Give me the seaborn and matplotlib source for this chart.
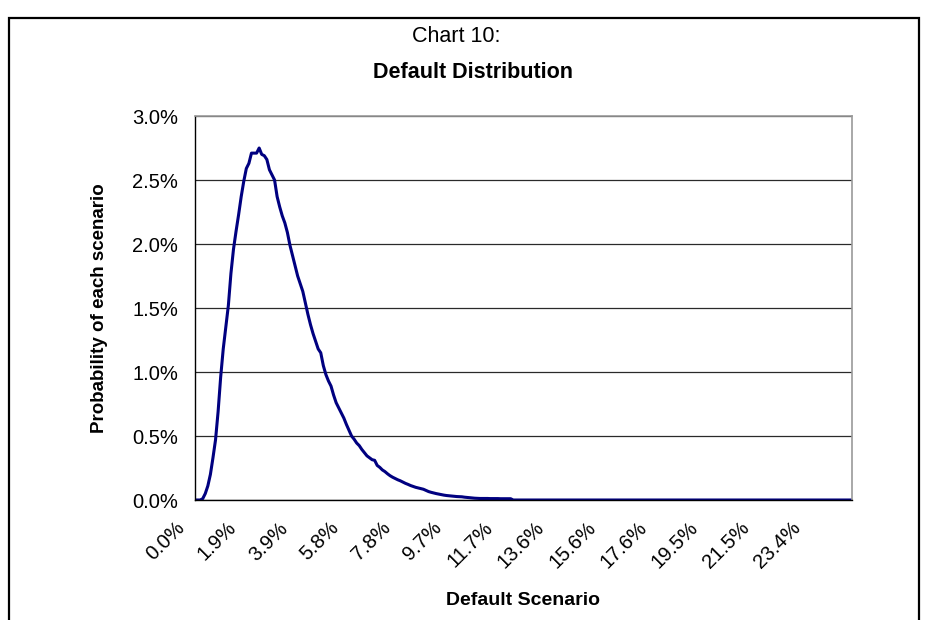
import numpy as np
import matplotlib
matplotlib.use('Agg')
import matplotlib.pyplot as plt
import seaborn as sns
from matplotlib.patches import Rectangle
from matplotlib.transforms import ScaledTranslation
from matplotlib.ticker import FuncFormatter

# Probabilidad de cada escenario (%), un valor por escenario
prob_subida = [0.000, 0.000, 0.000, 0.010, 0.050, 0.110, 0.200, 0.330, 0.470, 0.690,
               0.960, 1.180, 1.350, 1.520, 1.770, 1.960, 2.100, 2.230, 2.370, 2.490,
               2.590, 2.630, 2.710, 2.710, 2.710, 2.750, 2.700, 2.690, 2.660, 2.580]
prob_bajada = [2.540, 2.500, 2.370, 2.290, 2.220, 2.165, 2.090, 1.990, 1.910, 1.830,
               1.750, 1.690, 1.630, 1.540, 1.450, 1.370, 1.300, 1.240, 1.180, 1.150,
               1.050, 0.980, 0.930, 0.890, 0.820, 0.760, 0.720, 0.680, 0.640, 0.590,
               0.545, 0.500, 0.475, 0.445, 0.425, 0.395, 0.370, 0.345, 0.330, 0.315,
               0.310, 0.270, 0.255, 0.235, 0.222, 0.205, 0.190, 0.178, 0.168, 0.158,
               0.150, 0.140, 0.130, 0.122, 0.113, 0.106, 0.099, 0.094, 0.089, 0.084,
               0.075, 0.066, 0.060, 0.055, 0.050, 0.046, 0.042, 0.038, 0.035, 0.033,
               0.031, 0.029, 0.027, 0.026, 0.025, 0.022, 0.020, 0.018, 0.016, 0.014,
               0.013, 0.012, 0.012, 0.012, 0.012, 0.011, 0.011, 0.011, 0.011, 0.010,
               0.010, 0.010, 0.010, 0.010]
prob_cola = [0.0, 0.0, 0.0, 0.0, 0.0, 0.0, 0.0, 0.0, 0.0, 0.0, 0.0, 0.0, 0.0, 0.0, 0.0, 0.0, 0.0, 0.0, 0.0, 0.0,
             0.0, 0.0, 0.0, 0.0, 0.0, 0.0, 0.0, 0.0, 0.0, 0.0, 0.0, 0.0, 0.0, 0.0, 0.0, 0.0, 0.0, 0.0, 0.0, 0.0,
             0.0, 0.0, 0.0, 0.0, 0.0, 0.0, 0.0, 0.0, 0.0, 0.0, 0.0, 0.0, 0.0, 0.0, 0.0, 0.0, 0.0, 0.0, 0.0, 0.0,
             0.0, 0.0, 0.0, 0.0, 0.0, 0.0, 0.0, 0.0, 0.0, 0.0, 0.0, 0.0, 0.0, 0.0, 0.0, 0.0, 0.0, 0.0, 0.0, 0.0,
             0.0, 0.0, 0.0, 0.0, 0.0, 0.0, 0.0, 0.0, 0.0, 0.0, 0.0, 0.0, 0.0, 0.0, 0.0, 0.0, 0.0, 0.0, 0.0, 0.0,
             0.0, 0.0, 0.0, 0.0, 0.0, 0.0, 0.0, 0.0, 0.0, 0.0, 0.0, 0.0, 0.0, 0.0, 0.0, 0.0, 0.0, 0.0, 0.0, 0.0,
             0.0, 0.0, 0.0, 0.0, 0.0, 0.0, 0.0, 0.0, 0.0, 0.0, 0.0, 0.0, 0.0]

# Etiquetas del eje x (una cada 20 escenarios)
etiquetas_x = ['0.0%', '1.9%', '3.9%', '5.8%', '7.8%', '9.7%', '11.7%',
               '13.6%', '15.6%', '17.6%', '19.5%', '21.5%', '23.4%']
paso_etiqueta = 20

probabilidad = prob_subida + prob_bajada + prob_cola
escenario = np.arange(len(probabilidad))

sns.set_style('white')
plt.rcParams['font.family'] = ['Liberation Sans', 'DejaVu Sans']
plt.rcParams['text.color'] = 'black'
plt.rcParams['axes.labelcolor'] = 'black'
negrita = ['Liberation Sans Narrow', 'Liberation Sans', 'DejaVu Sans']

fig = plt.figure(figsize=(9.27, 6.2), dpi=100)
ax = fig.add_axes([195 / 927, 1 - 500 / 620, (852 - 195) / 927, (500 - 116) / 620])

sns.lineplot(x=escenario, y=probabilidad, color='#000080', linewidth=2.2, ax=ax)

ax.set_xlim(0, len(probabilidad) - 1)
ax.set_ylim(0, 3.0)
ax.set_yticks(np.arange(0, 3.01, 0.5))
ax.yaxis.set_major_formatter(FuncFormatter(lambda v, p: f'{v:.1f}%'))
ax.set_xticks(np.arange(len(etiquetas_x)) * paso_etiqueta)
ax.set_xticklabels(etiquetas_x)

ax.yaxis.grid(True, color='#2a2a2a', linewidth=0.9)
ax.set_axisbelow(True)
for lado in ['left', 'bottom']:
    ax.spines[lado].set_color('black')
    ax.spines[lado].set_linewidth(1.0)
for lado in ['top', 'right']:
    ax.spines[lado].set_color('#9a9a9a')
    ax.spines[lado].set_linewidth(1.2)

ax.tick_params(axis='both', direction='out', length=5, width=0.9, color='black',
               labelsize=14.5, labelcolor='black')
ax.tick_params(axis='y', pad=7)
ax.tick_params(axis='x', pad=13)
desplazamiento = ScaledTranslation(-0.13, 0, fig.dpi_scale_trans)
for etiqueta in ax.get_xticklabels():
    etiqueta.set_rotation(45)
    etiqueta.set_ha('right')
    etiqueta.set_va('center')
    etiqueta.set_rotation_mode('anchor')
    etiqueta.set_transform(etiqueta.get_transform() + desplazamiento)

ax.set_ylabel('Probability of each scenario', fontsize=13.5, fontweight='bold', family=negrita)
ax.yaxis.label.set_va('center')
ax.yaxis.set_label_coords(-0.145, 0.5)
ax.set_xlabel('Default Scenario', fontsize=14, fontweight='bold', family=negrita)
ax.xaxis.label.set_va('center')
ax.xaxis.set_label_coords(0.5, -0.262)

fig.text(456 / 927, 1 - 37 / 620, 'Chart 10:', ha='center', va='center', fontsize=15.5)
fig.text(473 / 927, 1 - 72 / 620, 'Default Distribution', ha='center', va='center',
         fontsize=15.5, fontweight='bold', family=negrita)

# Marco del grafico (el borde inferior queda fuera de la imagen)
marco = Rectangle((8.5 / 927, -0.1), 910 / 927, 1 - 18 / 620 + 0.1, transform=fig.transFigure,
                  fill=False, edgecolor='black', linewidth=1.6)
fig.patches.append(marco)

fig.savefig('out.png', dpi=100)
